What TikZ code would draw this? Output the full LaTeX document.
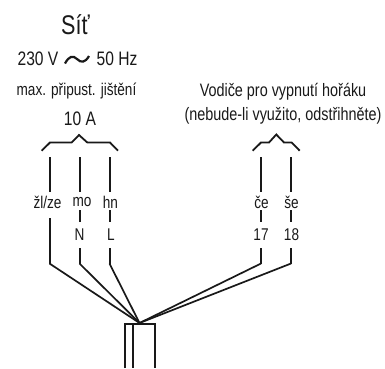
\documentclass[tikz,border=0pt]{standalone}
\usepackage{fontspec}
\setmainfont[FakeStretch=0.8]{Liberation Sans}
\tikzset{
  lbl/.style={inner sep=0pt,text=black!90,font=\fontsize{17}{20}\selectfont},
  capt/.style={inner sep=0pt,text=black!90,font=\fontsize{18}{21}\selectfont},
  wire/.style={draw=black!90,line width=2pt},
  thin wire/.style={draw=black!90,line width=1.7pt},
  brace/.style={draw=black!90,line width=1.8pt},
}
\begin{document}
\begin{tikzpicture}[x=1pt,y=-1pt]%
\useasboundingbox (0,0) rectangle (385,368);%
% captions
\node[capt,font=\fontsize{27}{30}\selectfont] (sit) at (75.5,25) {Síť};%
\node[capt,font=\fontsize{19.5}{22}\selectfont] (volt) at (38,58.5) {230 V};%
\node[capt,font=\fontsize{19.5}{22}\selectfont] (freq) at (117,58.5) {50 Hz};%
\node[capt,font=\fontsize{17}{20}\selectfont] (jist) at (76.5,91) {max. připust. jištění};%
\node[capt,font=\fontsize{19.5}{22}\selectfont] (amp) at (80,119) {10 A};%
\node[capt] (vodice) at (283,92) {Vodiče pro vypnutí hořáku};%
\node[capt] (odstrih) at (283,115.5) {(nebude-li využito, odstřihněte)};%
\draw[black!90,line width=2.2pt] (65,63.5) .. controls (69,56) and (73,55) .. (77,59) .. controls (81,63) and (85,63) .. (89,56);%
% braces
\draw[brace] (41.7,150.7) -- (50,142.5) -- (71.7,142.5) -- (79,135) -- (87.3,142.5) -- (110,142.5) -- (118,150.7);%
\draw[brace] (252.7,150.7) -- (261,142.5) -- (269,142.5) -- (276.3,134.5) -- (284,142.5) -- (291.7,142.5) -- (299.7,150.7);%
% labels on the wires
\node[lbl] (ze) at (47.5,202) {žl/ze};%
\node[lbl] (mo) at (82,202) {mo};%
\node[lbl] (hn) at (110.5,202) {hn};%
\node[lbl] (ce) at (261.5,202) {če};%
\node[lbl] (se) at (291.5,202) {še};%
\node[lbl] (n) at (79.5,235) {N};%
\node[lbl] (l) at (111,235) {L};%
\node[lbl] (a17) at (261,235) {17};%
\node[lbl] (a18) at (291.5,235) {18};%
% wire ends
\coordinate (apex) at (139.5,323);%
\foreach \name/\xpos/\ylow in {ze/49.5/218,mo/79.5/248,hn/109.5/248,ce/261/248,se/291/248}{%
  \coordinate (\name top) at (\xpos,157);%
  \coordinate (\name up) at (\xpos,192);%
  \coordinate (\name low) at (\xpos,\ylow);%
  \coordinate (\name bend) at (\xpos,263.5);%
  \draw[wire] (\name top) -- (\name up);%
  \draw[wire] (\name low) -- (\name bend);%
  \draw[thin wire] (\name bend) -- (apex);%
}%
\foreach \name in {mo,hn,ce,se}{%
  \draw[wire] (\name up |- 0,210) -- (\name up |- 0,222);%
}%
% cable
\draw[wire] (125,368) -- (125,324) -- (155,324) -- (155,368);%
\draw[wire] (132.5,324) -- (132.5,368);%
\end{tikzpicture}
\end{document}
